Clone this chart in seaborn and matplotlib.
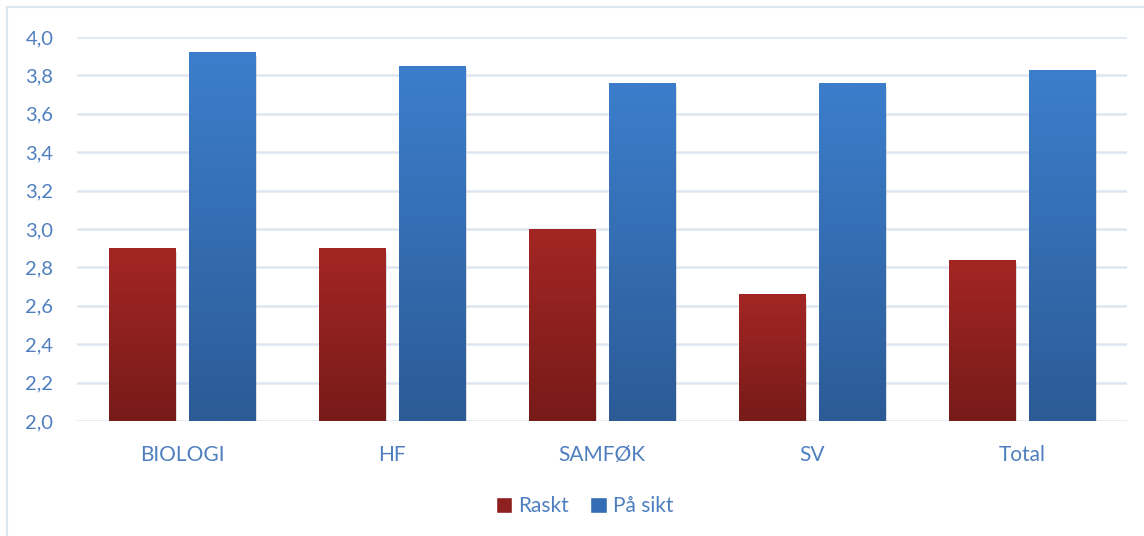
import numpy as np
import pandas as pd
import matplotlib
matplotlib.use("Agg")
import matplotlib.pyplot as plt
import matplotlib.patheffects as pe
from matplotlib.colors import LinearSegmentedColormap
from matplotlib.patches import Rectangle
import seaborn as sns

categories = ["BIOLOGI", "HF", "SAMFØK", "SV", "Total"]
raskt = [2.90, 2.90, 3.00, 2.66, 2.84]
paa_sikt = [3.92, 3.85, 3.76, 3.76, 3.83]
series_names = ["Raskt", "På sikt"]
yticks = [2.0, 2.2, 2.4, 2.6, 2.8, 3.0, 3.2, 3.4, 3.6, 3.8, 4.0]

df = pd.DataFrame({
    "Kategori": categories * 2,
    "Serie": [series_names[0]] * len(categories) + [series_names[1]] * len(categories),
    "Verdi": raskt + paa_sikt,
})

sns.set_theme(style="white")
plt.rcParams["font.family"] = ["Lato", "DejaVu Sans"]

TXT = "#4f7fbf"
red_top, red_bot = "#a32624", "#771b19"
blue_top, blue_bot = "#3c7ecc", "#2c5b96"

fig = plt.figure(figsize=(11.44, 5.36), dpi=100)
ax = fig.add_axes([77 / 1144, 115 / 536, 1050 / 1144, 384 / 536])

sns.barplot(data=df, x="Kategori", y="Verdi", hue="Serie",
            palette=[red_bot, blue_bot], width=0.762, gap=0.175,
            ax=ax, legend=False, zorder=3)

ax.set_ylim(2.0, 4.0)
ax.set_xlim(-0.5, len(categories) - 0.5)
ax.set_yticks(yticks)
ax.set_yticklabels([f"{t:.1f}".replace(".", ",") for t in yticks])
ax.yaxis.grid(True, color="#dfe6f0", linewidth=1.8, zorder=0)
ax.xaxis.grid(False)
ax.set_axisbelow(True)
for s in ax.spines.values():
    s.set_visible(False)
ax.set_xlabel("")
ax.set_ylabel("")
ax.tick_params(axis="y", length=0, pad=17, labelsize=14.5, labelcolor=TXT)
ax.tick_params(axis="x", length=0, pad=17, labelsize=15, labelcolor=TXT)

cmaps = {
    0: LinearSegmentedColormap.from_list("r", [red_bot, red_top]),
    1: LinearSegmentedColormap.from_list("b", [blue_bot, blue_top]),
}
grad = np.linspace(0, 1, 256).reshape(-1, 1)
for si, cont in enumerate(ax.containers):
    for bar in cont:
        x0 = bar.get_x()
        w = bar.get_width()
        top = bar.get_y() + bar.get_height()
        bar.set_path_effects([pe.SimplePatchShadow(offset=(1.5, -2.5),
                                                   shadow_rgbFace="#909090", alpha=0.35),
                              pe.Normal()])
        im = ax.imshow(grad, extent=[x0, x0 + w, 2.0, top], origin="lower",
                       aspect="auto", cmap=cmaps[si], zorder=4)
        im.set_clip_path(bar)

ax.set_ylim(2.0, 4.0)
ax.set_xlim(-0.5, len(categories) - 0.5)

handles = [Rectangle((0, 0), 1, 1, facecolor="#8e2120"),
           Rectangle((0, 0), 1, 1, facecolor="#346db3")]
fig.legend(handles, series_names, loc="center", bbox_to_anchor=(0.511, 1 - 506 / 536),
           ncol=2, frameon=False, fontsize=15, labelcolor=TXT,
           handlelength=0.8, handleheight=0.8, handletextpad=0.3, columnspacing=1.0)

fig.patches.append(Rectangle((7 / 1144, -0.1), 1.2, (529 / 536) + 0.1,
                             transform=fig.transFigure, fill=False,
                             edgecolor="#dce5f0", linewidth=1.5))

fig.savefig("out.png", dpi=100)
